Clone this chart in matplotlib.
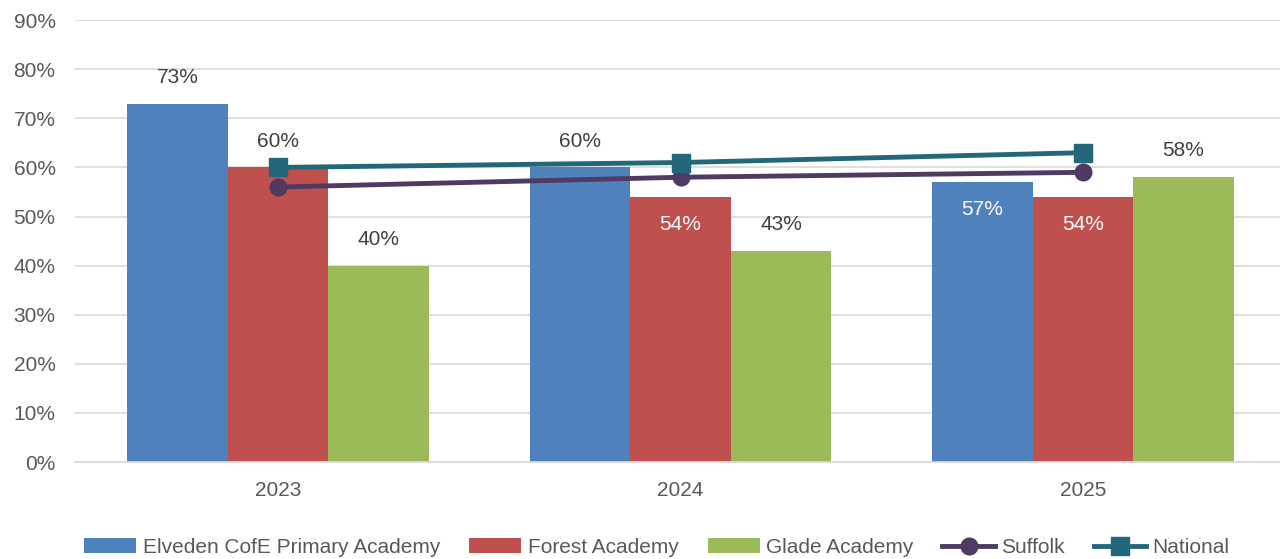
import numpy as np
import matplotlib.pyplot as plt

years = ['2023', '2024', '2025']
elveden = [73, 60, 57]
forest = [60, 54, 54]
glade = [40, 43, 58]
suffolk = [56, 58, 59]
national = [60, 61, 63]

# label placement: True = inside bar (white), False = above bar
elveden_inside = [False, False, True]
forest_inside = [False, True, True]
glade_inside = [False, False, False]

plt.rcParams['font.family'] = ['Liberation Sans', 'DejaVu Sans']

text_col = '#595959'
fig = plt.figure(figsize=(12.8, 5.59), dpi=100)
ax = fig.add_axes([0.0586, 0.1735, 0.9414, 0.7905])

x = np.arange(len(years))
w = 0.25
series = [
    (elveden, '#4F81BD', 'Elveden CofE Primary Academy', elveden_inside, -w),
    (forest, '#C0504D', 'Forest Academy', forest_inside, 0),
    (glade, '#9BBB59', 'Glade Academy', glade_inside, w),
]
handles = []
for vals, col, lab, inside, off in series:
    b = ax.bar(x + off, vals, width=w, color=col, label=lab, zorder=2)
    handles.append(b)
    for xi, v, ins in zip(x + off, vals, inside):
        if ins:
            ax.annotate(f'{v}%', (xi, v), xytext=(0, -20), textcoords='offset points',
                        ha='center', va='center', color='white', fontsize=15, zorder=5)
        else:
            ax.annotate(f'{v}%', (xi, v), xytext=(0, 19), textcoords='offset points',
                        ha='center', va='center', color='#404040', fontsize=15, zorder=5)

l1, = ax.plot(x, suffolk, color='#4E3A62', lw=3.5, marker='o', ms=12, label='Suffolk', zorder=4)
l2, = ax.plot(x, national, color='#23687A', lw=3.5, marker='s', ms=13, label='National', zorder=4)
handles += [l1, l2]

ax.set_xlim(-0.505, 2.49)
ax.set_ylim(0, 90)
ax.set_yticks(range(0, 91, 10))
ax.set_yticklabels([f'{t}%' for t in range(0, 91, 10)])
ax.set_xticks(x)
ax.set_xticklabels(years)
ax.tick_params(axis='both', length=0, labelsize=15, colors=text_col)
ax.tick_params(axis='x', pad=14)
ax.tick_params(axis='y', pad=14)
ax.yaxis.grid(True, color='#D9D9D9', lw=1.2, zorder=0)
ax.set_axisbelow(True)
for s in ['top', 'right', 'left']:
    ax.spines[s].set_visible(False)
ax.spines['bottom'].set_color('#D9D9D9')
ax.spines['bottom'].set_linewidth(1.2)

fig.legend(handles=handles, labels=[h.get_label() for h in handles],
           loc='lower center', bbox_to_anchor=(0.513, -0.03), ncol=5, frameon=False,
           prop={'size': 15}, labelcolor=text_col,
           handlelength=2.5, handletextpad=0.3, columnspacing=1.4)

fig.savefig('out.png', dpi=100)
